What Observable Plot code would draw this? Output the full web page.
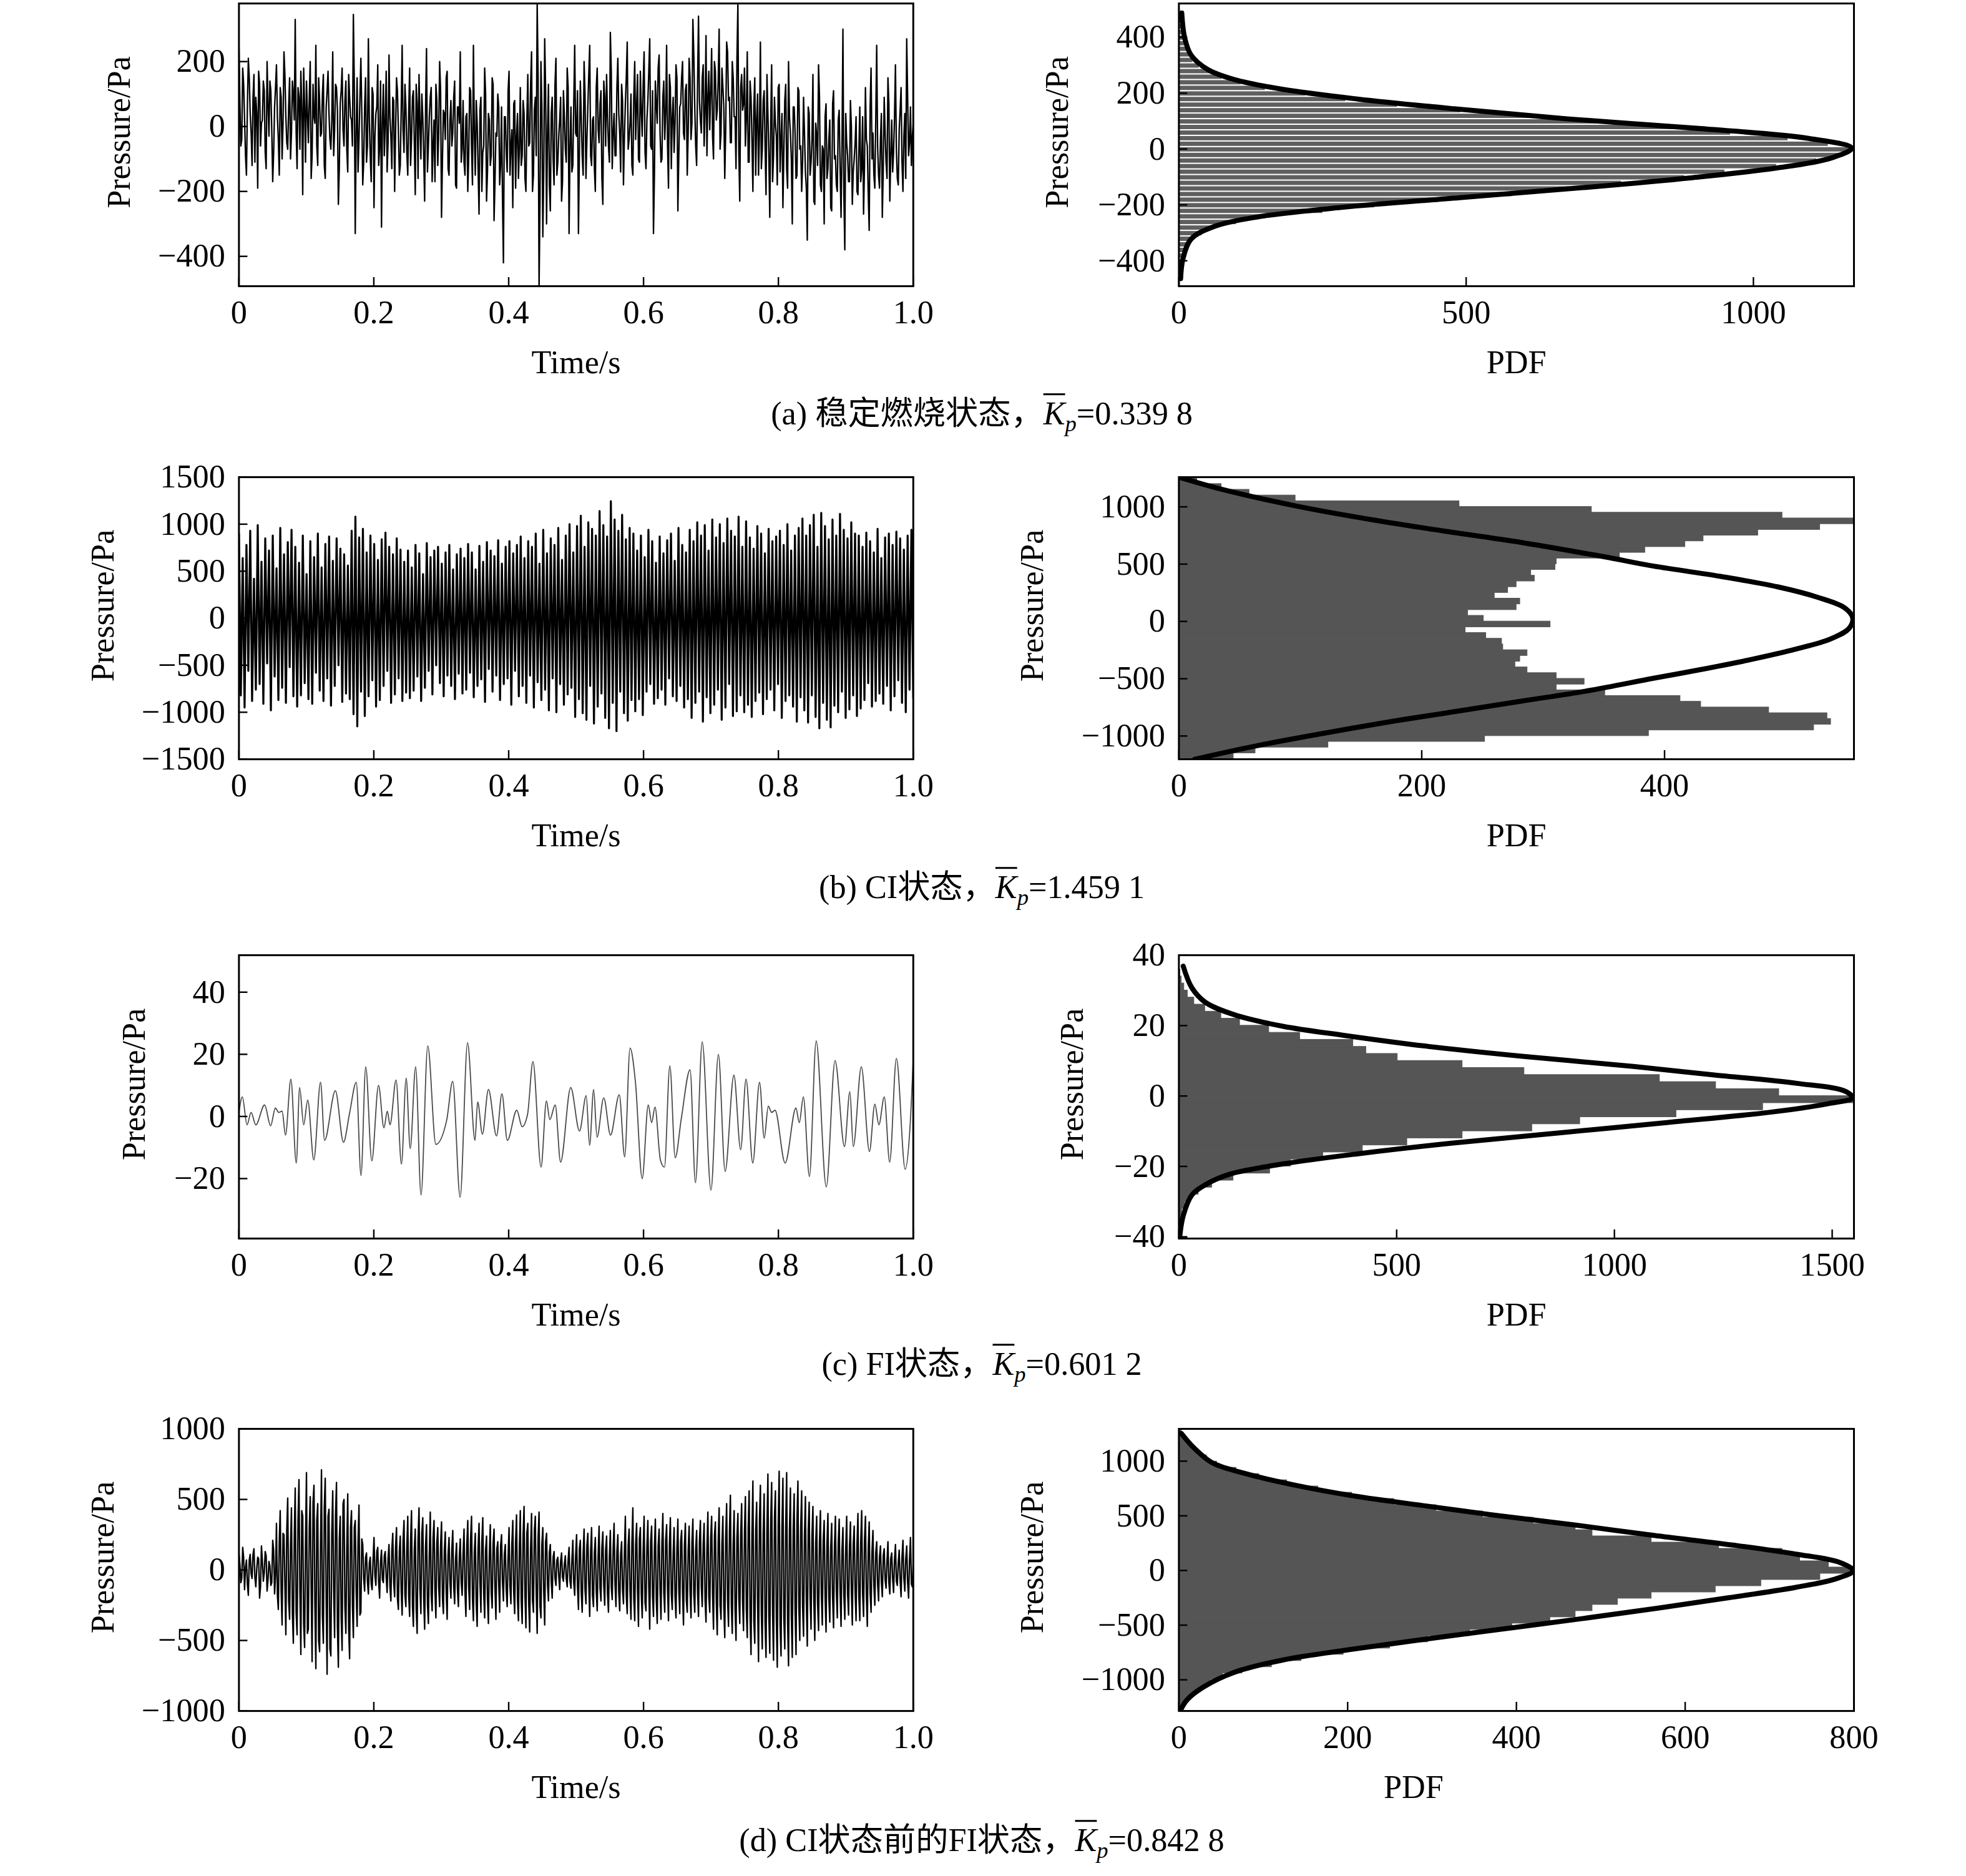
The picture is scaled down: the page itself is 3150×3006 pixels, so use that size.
<!DOCTYPE html>
<html><head><meta charset="utf-8">
<script src="https://cdn.jsdelivr.net/npm/d3@7"></script>
<script src="https://cdn.jsdelivr.net/npm/@observablehq/plot@0.6"></script>
<style>
html,body{margin:0;padding:0;background:#fff;}
#page{position:relative;width:3150px;height:3006px;overflow:hidden;background:#fff;}
.cap{position:absolute;white-space:nowrap;font-family:"Liberation Serif","Noto Sans CJK SC",serif;color:#000;transform:translate(-50%,-50%);line-height:1;}
.kbar{font-style:italic;text-decoration:overline;text-decoration-thickness:0.05em;}
.sub{font-style:italic;font-size:0.7em;vertical-align:-0.3em;}
</style></head><body><div id="page"></div><script>
// ---------------- data ----------------
const timeTicks = [0, 0.2, 0.4, 0.6, 0.8, 1.0];
const timeTickLabels = ["0", "0.2", "0.4", "0.6", "0.8", "1.0"];

// (a) stable combustion: even-numbered and odd-numbered samples
const aPressureEven = [
250,-60,180,20,-150,210,40,-120,160,90,-190,130,10,140,-80,200,-30,110,-170,60,190,-40,120,-100,230,30,-70,150,-20,100,
330,-130,90,170,-210,60,140,-50,200,-90,30,250,-120,80,-20,160,-160,110,40,-70,230,-10,120,-240,70,180,-60,140,-140,90,
20,345,-330,150,-40,210,-180,60,-110,270,-90,120,-250,40,190,-60,-310,130,10,-140,220,-30,90,-200,150,-10,-120,250,-80,60,
-150,180,-40,110,-210,70,160,-100,30,-230,240,-60,90,-170,20,130,-120,200,-280,50,-40,170,-150,80,-20,140,-190,60,230,-70,
-110,30,-200,120,-60,250,-150,10,-270,90,-80,180,-230,40,-120,150,-290,-20,100,-180,60,-420,30,-140,170,-60,-250,80,-30,-160,
120,-90,40,-200,160,-50,230,-150,90,380,-500,200,-340,270,-300,130,-260,90,-180,210,-110,20,-230,110,-70,180,-330,60,-120,250,
-30,-330,140,-90,200,-160,60,250,-120,30,-200,180,-50,110,-240,90,160,-60,290,-130,40,-90,210,-20,130,-180,70,260,-40,100,
-150,200,60,-100,170,-30,230,-130,80,270,-70,-330,140,10,220,-110,90,-40,250,-190,120,30,-80,190,-260,60,150,-20,110,-150,
210,-40,330,60,-120,340,20,150,-60,280,90,-10,240,-100,170,50,300,-20,120,-160,260,80,-50,200,30,-130,380,-230,160,70,
-60,230,-110,90,-200,150,20,-150,260,-70,110,-210,40,-280,190,-90,10,-180,130,-40,-250,80,-130,200,-20,-300,60,-160,120,-70,
-200,90,-140,-350,40,-110,160,-240,-30,190,-180,-60,-300,70,-130,20,-260,110,-90,-200,50,-280,300,-380,-50,-170,80,-240,-100,30,
-210,60,-130,-270,120,-60,-320,180,-20,-190,250,-150,-40,-280,90,-110,150,-230,20,-80,190,-160,-10,120,-200,40,270,-90,60,-30];
const aPressureOdd = [
80,-40,130,-90,60,150,-20,90,-110,40,170,-60,20,110,-130,70,140,-10,-80,120,30,-150,90,10,160,-50,60,-100,140,20,
-20,120,-70,60,180,-110,40,90,-160,130,10,-60,150,-30,100,-120,60,170,-40,20,-90,130,50,-130,110,-10,80,-70,160,30,
-60,130,-20,-140,90,40,-110,150,-60,20,-170,100,-30,60,-120,140,10,-90,170,-50,30,-130,80,-20,110,-150,50,-10,130,-80,
40,-120,90,-50,130,-160,10,100,-90,60,-140,30,120,-60,-170,80,-20,110,-100,40,150,-130,20,-60,90,-180,60,10,-110,80,
-150,40,-90,110,-180,-20,80,-130,50,-200,-60,100,-140,20,-90,130,-170,-30,60,-120,-220,30,-80,110,-150,-10,70,-190,40,-70,
-120,80,-160,20,-60,130,-200,50,-90,150,-230,60,-140,110,-20,-180,40,-100,130,-150,-30,90,-170,30,-110,120,-60,-140,70,-20,
110,-80,30,-150,100,-40,160,-90,20,-130,120,-10,70,-160,140,-60,30,-110,170,-20,-90,120,40,-140,80,-30,150,-70,10,-120,
90,-40,160,-110,50,130,-80,20,170,-60,110,-150,70,180,-20,-100,140,40,-60,160,-130,90,10,150,-90,70,200,-40,130,-20,
150,10,220,-60,130,80,-20,190,40,-90,170,110,-30,200,20,140,-70,180,60,-10,230,90,-50,150,30,210,-80,120,50,180,
20,-110,140,-40,60,-150,100,-20,-130,80,-60,160,-90,10,-170,90,-30,120,-140,40,-80,130,-190,30,-100,60,-20,-150,110,-60,
-110,-20,-190,60,-150,-40,-230,10,-120,90,-200,-70,30,-160,-40,-250,70,-100,-180,20,-130,-60,-210,40,-90,-170,0,-140,-50,-200,
-80,-170,30,-120,-40,-210,60,-100,-150,20,-60,-190,40,-130,-20,-160,70,-90,-140,30,-70,-180,50,-110,-30,-160,90,-50,-120,10];
const aBinStart = -490, aBinWidth = 20;
const aCounts = [2,3,4,6,8,10,14,19,24,40,60,100,150,250,340,450,580,680,770,880,950,1040,1110,1150,
1170,1130,1060,960,860,730,610,490,380,290,220,150,108,75,55,35,24,18,14,11,9,7,5,4,3,2];
const aFitPdf = [5,10,21,50,96,180,311,479,676,909,1096,1171,1134,1040,891,704,489,283,134,59,21,7,3];
const aFitPa  = [487,399,337,285,249,214,179,144,108,73,38,3,-33,-68,-103,-138,-174,-209,-244,-279,-323,-394,-464];

// (b) CI state
const bPressure = [
900,-820,640,-950,780,-560,930,-880,420,-760,990,-700,600,-910,850,-480,720,-980,880,-620,530,-870,960,-740,680,-900,810,-520,940,-830,
760,-940,590,-820,880,-690,470,-860,820,-910,650,-580,900,-770,540,-880,790,-640,870,-930,610,-720,850,-500,740,-890,680,-800,560,-860,
930,-1020,1080,-1150,860,-780,950,-1040,700,-830,880,-660,790,-940,620,-870,840,-720,910,-560,760,-900,680,-810,850,-640,730,-880,600,-790,
720,-850,540,-770,780,-620,690,-880,470,-740,800,-560,650,-810,720,-500,760,-690,580,-830,700,-610,780,-720,520,-860,680,-590,740,-800,
640,-760,790,-580,700,-840,520,-720,770,-650,600,-890,810,-540,720,-780,660,-610,830,-870,580,-700,760,-640,820,-920,690,-560,780,-830,
870,-720,640,-900,820,-610,760,-950,900,-680,580,-870,940,-760,690,-980,850,-640,780,-1000,960,-700,620,-920,880,-810,1000,-740,700,-1050,
980,-860,1090,-1010,760,-1080,1020,-720,950,-1120,880,-940,1140,-800,990,-1060,870,-1170,1245,-900,1050,-1200,930,-780,1100,-1010,840,-1090,960,-870,
900,-990,720,-860,880,-1030,650,-780,940,-700,820,-910,590,-850,870,-760,690,-920,830,-640,900,-830,610,-880,960,-720,780,-950,700,-860,
940,-1060,820,-900,1020,-780,880,-1100,990,-840,720,-1010,1050,-920,860,-760,1000,-1080,800,-950,1060,-700,930,-1040,870,-990,1080,-820,760,-1000,
1030,-920,860,-1050,740,-880,980,-790,900,-1020,690,-860,950,-760,820,-980,870,-700,930,-1060,780,-880,1000,-820,720,-940,880,-1100,960,-840,
1060,-980,880,-1110,990,-820,1100,-1050,760,-1170,1120,-900,980,-1080,840,-1160,1050,-930,880,-1000,1110,-780,940,-1060,850,-970,1020,-820,900,-1040,
880,-960,760,-870,910,-690,820,-940,700,-880,950,-800,640,-910,860,-720,900,-980,780,-830,920,-660,850,-900,730,-1000,880,-760,940,-850];
const bBinStart = -1200, bBinWidth = 50;
const bCounts = [45,63,123,252,387,523,537,534,486,430,413,351,311,334,311,287,277,281,287,267,266,253,236,306,
251,238,278,281,260,271,278,293,290,310,311,363,384,417,432,477,528,556,497,340,231,96,58,35,15];
const bFitPdf = [0,35,100,162,217,275,326,355,388,446,493,526,548,555,552,537,508,471,428,391,337,282,228,173,107,60,13];
const bFitPa  = [1259,1154,1000,882,791,701,610,555,488,393,302,211,121,30,-61,-152,-242,-333,-424,-496,-605,-696,-786,-877,-1000,-1094,-1203];

// (c) FI state
const cTime = [0.000,0.005,0.012,0.018,0.025,0.038,0.047,0.054,0.059,0.064,0.069,0.077,0.085,0.090,0.096,0.102,0.111,0.121,0.127,0.143,
0.155,0.164,0.174,0.181,0.188,0.197,0.207,0.215,0.220,0.224,0.233,0.241,0.248,0.254,0.262,0.270,0.280,0.292,0.308,0.317,
0.328,0.339,0.350,0.354,0.361,0.370,0.382,0.390,0.398,0.412,0.420,0.428,0.436,0.448,0.456,0.461,0.469,0.477,0.492,0.505,
0.515,0.520,0.526,0.531,0.541,0.551,0.564,0.572,0.580,0.588,0.598,0.607,0.612,0.617,0.625,0.631,0.639,0.647,0.656,0.669,
0.677,0.687,0.700,0.711,0.721,0.734,0.744,0.752,0.762,0.772,0.779,0.785,0.790,0.795,0.810,0.826,0.831,0.837,0.846,0.856,
0.871,0.884,0.898,0.906,0.911,0.923,0.935,0.943,0.949,0.957,0.965,0.975,0.988,0.995,1.000];
const cPressure = [1.3,6.3,-2.7,1.3,-2.7,3.7,-3,2.7,1.3,1.7,-6,12,-15,9.3,-2.7,5.3,-14,11,-7.7,8.3,
-8.3,1,11,-19,16,-14.3,10,-3.7,1.7,-2.7,11.7,-15.3,12.3,-10.3,16,-25.3,22.7,-9,-1.3,11.3,
-26,23.7,-7.7,4.7,-5.7,8.7,-6.3,7.3,-7.7,2,-3.3,0.7,17.7,-16.3,5,-1,3.7,-14.7,9.3,-4.7,
6.7,-9.3,8.7,-6.7,6,-6,7,-13,22,11,-20,3.7,-2,3,-14,-16.3,16.3,-13.3,-0.7,15,
-21.3,24,-23.7,20,-17.7,13.3,-10.7,12,-15,11,-7,3.3,1.3,2,-15,2.7,-2,6.3,-19.3,24.3,
-22.7,18,-9.7,8,-9.7,16,-11.3,4,-2.7,6.3,-14.7,18.7,-17,-4,18.7];
const cBinStart = -40, cBinWidth = 2;
const cCounts = [1,2,4,7,14,25,45,76,125,209,257,331,422,524,651,811,921,1142,1341,1551,
1378,1233,1104,793,651,502,430,400,278,207,140,97,60,35,20,12,6,3,1];
const cFitPdf = [10,30,61,127,239,381,565,788,1043,1226,1419,1531,1546,1490,1358,1124,870,626,412,239,117,61,30,10,2];
const cFitPa  = [36.9,30.7,26.6,23.1,19.8,17.2,14.2,11.3,8.4,6.0,3.6,1.3,-0.5,-2.2,-4.6,-7.5,-10.5,-13.4,-16.4,-19.3,-22.2,-25.2,-28.1,-34,-39.9];

// (d) FI state before CI: even-numbered and odd-numbered samples
const dPressureEven = [
120,-90,160,-140,70,-180,110,-60,150,-120,90,-200,170,-80,130,-150,60,-110,210,-170,330,-280,420,-390,250,-460,510,-350,440,-520,
580,-460,640,-600,380,-550,690,-420,520,-650,600,-700,470,-580,710,-520,650,-740,430,-610,560,-480,620,-690,380,-570,500,-450,540,-630,
420,-480,350,-400,460,-300,180,-150,120,-170,90,-140,230,-110,160,-200,140,-90,130,-160,180,-220,260,-190,300,-280,240,-320,350,-260,
380,-330,420,-400,290,-450,440,-310,370,-420,320,-380,410,-290,350,-340,300,-260,340,-310,270,-350,230,-200,280,-240,190,-260,220,-180,
290,-330,350,-280,380,-360,260,-400,330,-300,370,-340,240,-380,320,-270,290,-350,200,-300,250,-220,180,-260,300,-240,350,-310,390,-360,
420,-380,450,-410,330,-440,400,-300,380,-450,410,-340,300,-390,260,-220,180,-200,130,-110,90,-140,120,-80,100,-120,160,-130,210,-180,
250,-280,210,-300,290,-240,260,-330,300,-260,230,-290,310,-220,270,-250,240,-300,280,-210,330,-260,250,-290,200,-240,380,-310,290,-350,
440,-360,330,-400,300,-340,380,-290,350,-420,310,-330,360,-380,290,-350,400,-300,320,-360,370,-280,300,-340,360,-310,280,-390,330,-300,
310,-340,360,-300,280,-330,350,-260,330,-370,410,-300,380,-420,340,-460,440,-350,380,-480,470,-400,530,-450,420,-500,400,-380,470,-430,
520,-480,560,-600,630,-520,480,-650,600,-560,540,-620,680,-590,620,-640,560,-690,700,-610,650,-560,690,-680,580,-620,540,-600,630,-500,
560,-470,520,-540,480,-420,450,-500,380,-430,420,-390,350,-440,400,-370,330,-410,380,-340,360,-400,300,-350,380,-320,340,-390,310,-360,
400,-360,420,-330,380,-400,340,-300,280,-250,200,-220,170,-190,150,-130,200,-170,120,-160,180,-110,140,-190,210,-150,170,-200,230,-120];
const dPressureOdd = [
40,-60,90,20,-100,70,-30,110,-50,10,80,-120,60,-20,100,-70,30,-90,140,-40,-180,200,-150,260,-100,280,-220,170,-310,240,
-300,350,-150,420,-380,200,-450,300,-120,480,-250,350,-500,180,-320,440,-200,380,-560,260,-150,390,-400,220,-330,470,-260,150,-410,300,
-250,300,-150,200,-320,220,-60,90,-80,50,-100,70,-40,130,-90,60,-70,100,-50,80,-120,140,-90,160,-200,130,-150,210,-180,150,
-180,200,-250,150,-280,220,-130,260,-200,170,-240,120,-180,230,-150,190,-120,170,-200,140,-160,110,-90,150,-120,80,-140,100,-90,120,
-150,180,-120,220,-200,130,-240,160,-90,200,-170,140,-210,110,-160,190,-130,150,-100,170,-80,110,-140,90,-120,180,-160,200,-210,150,
-220,250,-180,260,-240,150,-210,280,-170,230,-260,180,-150,200,-100,120,-80,90,-60,70,-40,60,-50,40,-60,70,-80,60,-90,100,
-120,150,-160,110,-140,170,-100,130,-180,120,-150,100,-130,160,-110,140,-170,90,-120,150,-100,130,-160,110,-140,120,-180,170,-150,190,
-200,180,-150,220,-170,140,-230,160,-120,200,-180,150,-210,170,-140,190,-160,210,-130,180,-170,120,-190,150,-140,200,-160,170,-210,140,
-150,190,-170,140,-160,200,-120,180,-210,150,-190,220,-170,240,-230,200,-250,180,-260,230,-210,270,-240,190,-280,230,-200,250,-220,260,
-280,300,-330,250,-360,280,-240,350,-310,270,-380,290,-320,340,-300,370,-350,320,-390,300,-340,310,-370,280,-330,300,-290,340,-260,300,
-260,250,-230,280,-200,240,-220,190,-240,200,-170,210,-190,180,-200,160,-190,170,-150,190,-160,140,-180,150,-170,160,-140,180,-150,170,
-190,200,-170,210,-180,150,-160,130,-110,120,-100,90,-80,100,-70,60,-90,80,-60,70,-80,50,-70,90,-60,80,-90,70,-100,60];
const dBinStart = -1282.5, dBinWidth = 57;
const dCounts = [4,9,16,26,38,52,75,110,145,195,250,295,345,395,440,470,490,520,560,636,690,760,800,
770,736,715,640,560,490,470,420,360,305,255,205,165,128,95,68,45,33,22,15,8,3];
const dFitPdf = [3,18,39,76,139,207,296,369,469,563,663,731,783,799,778,731,652,568,479,385,291,202,123,65,29,10,2];
const dFitPa  = [1253,1120,987,892,778,682,587,511,416,321,226,150,74,-2,-78,-154,-249,-344,-439,-534,-629,-724,-819,-933,-1066,-1180,-1276];

const captionLabels = ["(a) 稳定燃烧状态，", "(b) CI状态，", "(c) FI状态，", "(d) CI状态前的FI状态，"];
const kpValues = ["0.339 8", "1.459 1", "0.601 2", "0.842 8"];

// ---------------- helpers ----------------
const S = 2.009;
const FONT = '"Liberation Serif","Times New Roman",serif';
const FS = 26 * S;
const page = document.getElementById("page");
const intFmt = d3.format("d");
const timeFmt = d => timeTickLabels[timeTicks.indexOf(d)];

const interleave = (even, odd) => even.flatMap((v, i) => odd[i] !== undefined ? [v, odd[i]] : [v]);
const series = (arr) => arr.map((p, i) => ({t: i / (arr.length - 1), p}));
const bins = (start, w, counts) => counts.map((v, i) => ({lo: start + i * w, hi: start + (i + 1) * w, v}));
const fit = (pdf, pa) => pdf.map((v, i) => ({v, p: pa[i]}));

function panel(o) {
  const [x0, x1, y0, y1] = o.frame;
  const mL = 150, mR = 40, mT = 8, mB = 80;
  const fw = x1 - x0, fh = y1 - y0;
  const W = fw + mL + mR, H = fh + mT + mB;
  const marks = [
    ...o.marks,
    Plot.frame({stroke: "black", strokeWidth: 1.5 * S}),
    Plot.tickX(o.xTicks, {x: d => d, insetTop: (fh - 7) * S, stroke: "black", strokeWidth: 1.2 * S}),
    Plot.tickY(o.yTicks, {y: d => d, insetRight: (fw - 7) * S, stroke: "black", strokeWidth: 1.2 * S}),
    Plot.axisX({ticks: o.xTicks, tickSize: 0, tickPadding: 11 * S, tickFormat: o.xFormat, label: null, fontSize: FS, fontFamily: FONT, fill: "black"}),
    Plot.axisY({ticks: o.yTicks, tickSize: 0, tickPadding: 11 * S, tickFormat: intFmt, label: null, fontSize: FS, fontFamily: FONT, fill: "black"}),
    Plot.text([o.xLabel], {text: d => d, frameAnchor: "bottom", lineAnchor: "middle", textAnchor: "middle", dy: 61 * S, dx: (o.xLabelDx || 0) * S, fontSize: FS, fontFamily: FONT, fill: "black"}),
    Plot.text(["Pressure/Pa"], {text: d => d, frameAnchor: "left", rotate: -90, textAnchor: "middle", lineAnchor: "middle", dx: -(x0 - o.yLabelX) * S, dy: -10 * S, fontSize: FS, fontFamily: FONT, fill: "black"})
  ];
  const chart = Plot.plot({
    width: W * S, height: H * S,
    marginLeft: mL * S, marginRight: mR * S, marginTop: mT * S, marginBottom: mB * S,
    x: {domain: o.xDomain}, y: {domain: o.yDomain},
    style: {fontFamily: FONT, fontSize: FS + "px", background: "transparent", overflow: "visible", color: "black"},
    marks
  });
  chart.style.position = "absolute";
  chart.style.left = ((x0 - mL) * S) + "px";
  chart.style.top = ((y0 - mT) * S) + "px";
  page.appendChild(chart);
}

function tsPanel(frame, data, yDomain, yTicks, yLabelX, stroke, sw, curve) {
  panel({frame, xDomain: [0, 1], yDomain, xTicks: timeTicks, yTicks, xFormat: timeFmt, xLabel: "Time/s", yLabelX,
    marks: [Plot.line(data, {x: "t", y: "p", stroke, strokeWidth: sw * S, clip: true, curve: curve || "linear"})]});
}
function histPanel(frame, binData, fitData, xDomain, xTicks, yDomain, yTicks, yLabelX, fill, inset, xLabelDx) {
  const barOpts = {x1: () => 0, x2: "v", y1: "lo", y2: "hi", fill, clip: true};
  if (inset > 0) barOpts.insetTop = inset * S;
  else { barOpts.stroke = fill; barOpts.strokeWidth = 0.5 * S; }
  panel({frame, xDomain, yDomain, xTicks, yTicks, xFormat: intFmt, xLabel: "PDF", yLabelX, xLabelDx,
    marks: [
      Plot.rect(binData, barOpts),
      Plot.line(fitData, {x: "v", y: "p", stroke: "black", strokeWidth: 4 * S, curve: "catmull-rom", clip: true})
    ]});
}

// ---------------- panels ----------------
tsPanel([190.5, 728.3, 2.5, 228], series(interleave(aPressureEven, aPressureOdd)), [-492, 379], [-400, -200, 0, 200], 95, "black", 1.15);
histPanel([940, 1478.4, 2.5, 228], bins(aBinStart, aBinWidth, aCounts), fit(aFitPdf, aFitPa), [0, 1175], [0, 500, 1000], [-491, 521], [-400, -200, 0, 200, 400], 843, "#5f5f5f", 1.0, 0);

tsPanel([190.5, 728.3, 380.5, 605.5], series(bPressure), [-1500, 1500], [-1500, -1000, -500, 0, 500, 1000, 1500], 82, "black", 1.6);
histPanel([940, 1478.4, 380.5, 605.5], bins(bBinStart, bBinWidth, bCounts), fit(bFitPdf, bFitPa), [0, 556], [0, 200, 400], [-1203, 1259], [-1000, -500, 0, 500, 1000], 823, "#555555", 0, 0);

tsPanel([190.5, 728.3, 761.5, 987.5], cTime.map((t, i) => ({t, p: cPressure[i]})), [-39.3, 51.9], [-20, 0, 20, 40], 107, "#4a4a4a", 0.9, "monotone-x");
histPanel([940, 1478.4, 761.5, 987.5], bins(cBinStart, cBinWidth, cCounts), fit(cFitPdf, cFitPa), [0, 1550], [0, 500, 1000, 1500], [-40.5, 40], [-40, -20, 0, 20, 40], 855, "#555555", 0, 0);

tsPanel([190.5, 728.3, 1139.5, 1364.5], series(interleave(dPressureEven, dPressureOdd)), [-1000, 1000], [-1000, -500, 0, 500, 1000], 82, "black", 1.15);
histPanel([940, 1478.4, 1139.5, 1364.5], bins(dBinStart, dBinWidth, dCounts), fit(dFitPdf, dFitPa), [0, 800], [0, 200, 400, 600, 800], [-1285, 1295], [-1000, -500, 0, 500, 1000], 823, "#555555", 0, -82);

// ---------------- captions ----------------
const capY = [332, 710, 1090, 1470];
captionLabels.forEach((lab, i) => {
  const div = document.createElement("div");
  div.className = "cap";
  div.style.left = (783 * S) + "px";
  div.style.top = (capY[i] * S) + "px";
  div.style.fontSize = FS + "px";
  div.innerHTML = `${lab}<span class="kbar">K</span><span class="sub">p</span>=${kpValues[i]}`;
  page.appendChild(div);
});
</script></body></html>
